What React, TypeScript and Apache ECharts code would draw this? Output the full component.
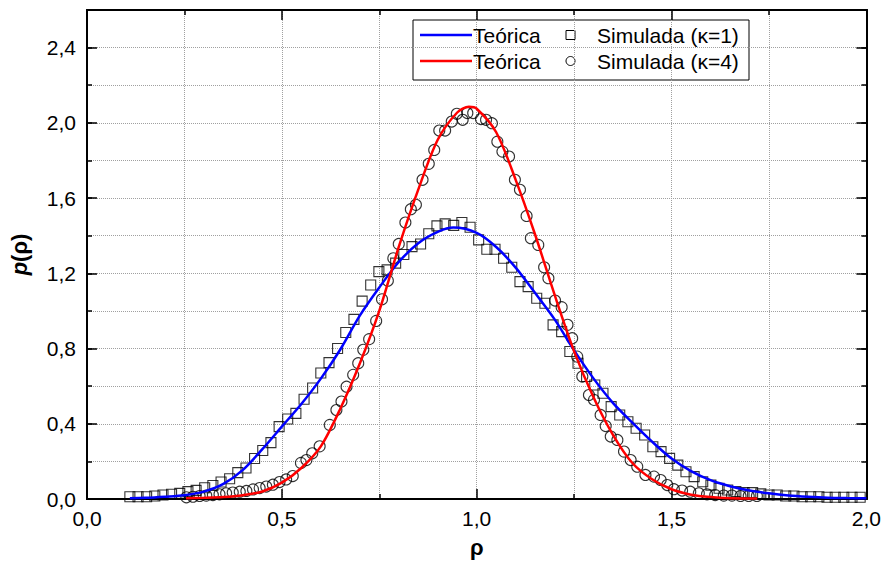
import React, { useEffect, useRef } from "react";
import * as echarts from "echarts";

// Theoretical curves
const blueX = [0.11, 0.15, 0.2, 0.25, 0.3, 0.35, 0.4, 0.45, 0.5, 0.55, 0.6, 0.65, 0.7, 0.75, 0.8, 0.85, 0.9, 0.94, 1.0, 1.05, 1.1, 1.15, 1.2, 1.25, 1.3, 1.35, 1.4, 1.45, 1.5, 1.55, 1.6, 1.65, 1.7, 1.75, 1.8, 1.85, 1.9, 1.95, 2.0];
const blueY = [0.004, 0.006, 0.012, 0.02, 0.039, 0.08, 0.155, 0.265, 0.385, 0.505, 0.64, 0.795, 0.975, 1.125, 1.26, 1.36, 1.42, 1.443, 1.415, 1.34, 1.23, 1.095, 0.955, 0.79, 0.64, 0.51, 0.405, 0.305, 0.215, 0.148, 0.1, 0.068, 0.045, 0.03, 0.019, 0.012, 0.007, 0.005, 0.004];

const redX = [0.254, 0.3, 0.35, 0.4, 0.45, 0.5, 0.55, 0.6, 0.65, 0.7, 0.75, 0.8, 0.85, 0.9, 0.95, 0.98, 1.0, 1.05, 1.1, 1.15, 1.2, 1.25, 1.3, 1.35, 1.4, 1.45, 1.5, 1.55, 1.6, 1.65, 1.72];
const redY = [0.004, 0.006, 0.01, 0.02, 0.04, 0.087, 0.165, 0.28, 0.48, 0.72, 1.0, 1.34, 1.645, 1.91, 2.055, 2.085, 2.075, 1.95, 1.697, 1.405, 1.085, 0.785, 0.54, 0.34, 0.19, 0.105, 0.052, 0.023, 0.01, 0.004, 0.002];

// Simulated (kappa = 1), squares
const sqX = [0.110, 0.131, 0.153, 0.174, 0.195, 0.217, 0.238, 0.259, 0.280, 0.302, 0.323, 0.344, 0.366, 0.387, 0.408, 0.430, 0.451, 0.472, 0.493, 0.515, 0.536, 0.557, 0.579, 0.600, 0.621, 0.643, 0.664, 0.685, 0.706, 0.728, 0.749, 0.770, 0.792, 0.813, 0.834, 0.856, 0.877, 0.898, 0.919, 0.941, 0.962, 0.983, 1.005, 1.026, 1.047, 1.069, 1.090, 1.111, 1.132, 1.154, 1.175, 1.196, 1.218, 1.239, 1.260, 1.282, 1.303, 1.324, 1.345, 1.367, 1.388, 1.409, 1.431, 1.452, 1.473, 1.495, 1.516, 1.537, 1.558, 1.580, 1.601, 1.622, 1.644, 1.665, 1.686, 1.708, 1.729, 1.750, 1.771, 1.793, 1.814, 1.835, 1.857, 1.878, 1.899, 1.920, 1.942, 1.963, 1.984];
const sqY = [0.012, 0.012, 0.012, 0.016, 0.021, 0.025, 0.030, 0.039, 0.046, 0.060, 0.072, 0.090, 0.108, 0.140, 0.165, 0.215, 0.258, 0.300, 0.385, 0.425, 0.455, 0.530, 0.590, 0.670, 0.725, 0.800, 0.885, 0.955, 1.052, 1.138, 1.209, 1.218, 1.254, 1.300, 1.342, 1.356, 1.410, 1.452, 1.463, 1.455, 1.470, 1.445, 1.378, 1.328, 1.328, 1.280, 1.232, 1.156, 1.129, 1.067, 1.041, 0.926, 0.890, 0.784, 0.722, 0.651, 0.606, 0.562, 0.491, 0.447, 0.411, 0.376, 0.340, 0.278, 0.252, 0.216, 0.180, 0.145, 0.119, 0.092, 0.074, 0.057, 0.048, 0.039, 0.034, 0.034, 0.027, 0.021, 0.021, 0.016, 0.016, 0.012, 0.012, 0.012, 0.009, 0.009, 0.009, 0.009, 0.009];

// Simulated (kappa = 4), circles
const ciX = [0.255, 0.272, 0.289, 0.306, 0.323, 0.340, 0.357, 0.374, 0.392, 0.409, 0.426, 0.443, 0.460, 0.477, 0.494, 0.511, 0.528, 0.549, 0.563, 0.578, 0.597, 0.623, 0.640, 0.653, 0.666, 0.683, 0.696, 0.709, 0.724, 0.742, 0.757, 0.772, 0.786, 0.800, 0.817, 0.831, 0.844, 0.861, 0.877, 0.891, 0.904, 0.919, 0.936, 0.949, 0.964, 0.976, 0.991, 1.011, 1.024, 1.039, 1.053, 1.066, 1.083, 1.098, 1.111, 1.128, 1.139, 1.158, 1.173, 1.184, 1.201, 1.218, 1.233, 1.245, 1.258, 1.271, 1.288, 1.301, 1.318, 1.331, 1.344, 1.361, 1.378, 1.395, 1.412, 1.433, 1.455, 1.472, 1.489, 1.506, 1.527, 1.548, 1.570, 1.591, 1.612, 1.634, 1.655, 1.677, 1.698, 1.719];
const ciY = [0.009, 0.012, 0.016, 0.018, 0.021, 0.025, 0.030, 0.034, 0.039, 0.043, 0.051, 0.058, 0.066, 0.076, 0.090, 0.104, 0.122, 0.192, 0.207, 0.243, 0.280, 0.394, 0.473, 0.518, 0.597, 0.660, 0.722, 0.793, 0.850, 0.947, 1.062, 1.161, 1.280, 1.356, 1.470, 1.541, 1.564, 1.697, 1.782, 1.856, 1.959, 1.959, 2.007, 2.048, 2.016, 2.052, 2.052, 2.020, 2.016, 1.998, 1.900, 1.847, 1.821, 1.697, 1.644, 1.505, 1.387, 1.351, 1.232, 1.174, 1.055, 1.020, 0.926, 0.855, 0.757, 0.651, 0.553, 0.527, 0.447, 0.388, 0.332, 0.314, 0.252, 0.207, 0.172, 0.128, 0.119, 0.101, 0.074, 0.052, 0.045, 0.039, 0.030, 0.025, 0.021, 0.018, 0.018, 0.016, 0.016, 0.016];

const legendLabels = ["Teórica", "Simulada (κ=1)", "Teórica", "Simulada (κ=4)"];

const FONT = "'Liberation Sans', Arial, Helvetica, sans-serif";
const fmt = (v: number) => (v > 2.5 ? "" : v.toFixed(1).replace(".", ","));
const zip = (a: number[], b: number[]) => a.map((x, i) => [x, b[i]]);

const dotted = { show: true, lineStyle: { color: "#a0a0a0", type: "dotted", width: 1 } };
const axLine = { show: true, onZero: false, lineStyle: { color: "#000", width: 2 } };

export default function App() {
  const ref = useRef<HTMLDivElement>(null);
  useEffect(() => {
    if (!ref.current) return;
    const chart = echarts.init(ref.current, null, { renderer: "svg" });
    const yBase = (pos: string, interval: number, len: number, extra: any = {}) => ({
      type: "value",
      position: pos,
      min: 0,
      max: 2.6,
      interval,
      axisLine: axLine,
      axisTick: { show: true, inside: true, length: len, lineStyle: { color: "#000", width: 1.5 } },
      splitLine: { show: false },
      axisLabel: { show: false },
      ...extra,
    });
    chart.setOption({
      animation: false,
      grid: { left: 87, right: 16, top: 10, bottom: 70, containLabel: false },
      xAxis: [
        {
          type: "value",
          position: "bottom",
          min: 0,
          max: 2,
          interval: 0.5,
          axisLine: axLine,
          axisTick: { show: true, inside: true, length: 10, lineStyle: { color: "#000", width: 1.5 } },
          minorTick: { show: true, splitNumber: 2, length: 5, lineStyle: { color: "#000", width: 1.5 } },
          splitLine: dotted,
          minorSplitLine: dotted,
          axisLabel: { formatter: fmt, fontSize: 21, color: "#000", fontFamily: FONT, margin: 9 },
          name: "ρ",
          nameLocation: "middle",
          nameGap: 37,
          nameTextStyle: { fontSize: 22, fontWeight: "bold", color: "#000", fontFamily: FONT },
        },
        {
          type: "value",
          position: "top",
          min: 0,
          max: 2,
          interval: 0.5,
          axisLine: axLine,
          axisTick: { show: true, inside: true, length: 10, lineStyle: { color: "#000", width: 1.5 } },
          minorTick: { show: true, splitNumber: 2, length: 5, lineStyle: { color: "#000", width: 1.5 } },
          splitLine: { show: false },
          axisLabel: { show: false },
        },
      ],
      yAxis: [
        yBase("left", 0.2, 5, { splitLine: dotted }),
        yBase("left", 0.4, 10, {
          axisLabel: { show: true, formatter: fmt, fontSize: 21, color: "#000", fontFamily: FONT, margin: 11, showMaxLabel: false },
          name: "{i|p}(ρ)",
          nameLocation: "middle",
          nameRotate: 90,
          nameGap: 57,
          nameTextStyle: {
            fontSize: 22,
            fontWeight: "bold",
            color: "#000",
            fontFamily: FONT,
            rich: { i: { fontSize: 22, fontStyle: "italic", fontWeight: "bold", fontFamily: FONT, color: "#000" } },
          },
        }),
        yBase("right", 0.2, 5),
        yBase("right", 0.4, 10),
      ],
      series: [
        {
          type: "scatter",
          name: legendLabels[1],
          data: zip(sqX, sqY),
          symbol: "rect",
          symbolSize: 10,
          itemStyle: { color: "rgba(0,0,0,0)", borderColor: "#000", borderWidth: 1.1 },
          z: 2,
        },
        {
          type: "scatter",
          name: legendLabels[3],
          data: zip(ciX, ciY),
          symbol: "circle",
          symbolSize: 11,
          itemStyle: { color: "rgba(0,0,0,0)", borderColor: "#000", borderWidth: 1.1 },
          z: 2,
        },
        {
          type: "line",
          name: "blue",
          data: zip(blueX, blueY),
          smooth: 0.3,
          showSymbol: false,
          symbol: "none",
          lineStyle: { color: "#0000ff", width: 2.5 },
          z: 4,
        },
        {
          type: "line",
          name: "red",
          data: zip(redX, redY),
          smooth: 0.3,
          showSymbol: false,
          symbol: "none",
          lineStyle: { color: "#ff0000", width: 2.5 },
          z: 4,
        },
      ],
      graphic: [
        {
          type: "group",
          z: 100,
          children: [
            { type: "rect", shape: { x: 413, y: 20, width: 336, height: 60 }, style: { fill: "#fff", stroke: "#000", lineWidth: 1 } },
            { type: "line", shape: { x1: 420, y1: 35, x2: 472, y2: 35 }, style: { stroke: "#0000ff", lineWidth: 2.5 } },
            { type: "text", x: 473, y: 35, style: { text: legendLabels[0], fontSize: 21, fontFamily: FONT, fill: "#000", verticalAlign: "middle" } },
            { type: "rect", shape: { x: 566, y: 30.5, width: 9, height: 9 }, style: { fill: "none", stroke: "#000", lineWidth: 1 } },
            { type: "text", x: 597, y: 35, style: { text: legendLabels[1], fontSize: 21, fontFamily: FONT, fill: "#000", verticalAlign: "middle" } },
            { type: "line", shape: { x1: 420, y1: 61, x2: 472, y2: 61 }, style: { stroke: "#ff0000", lineWidth: 2.5 } },
            { type: "text", x: 473, y: 61, style: { text: legendLabels[2], fontSize: 21, fontFamily: FONT, fill: "#000", verticalAlign: "middle" } },
            { type: "circle", shape: { cx: 570.5, cy: 61, r: 4.5 }, style: { fill: "none", stroke: "#000", lineWidth: 1 } },
            { type: "text", x: 597, y: 61, style: { text: legendLabels[3], fontSize: 21, fontFamily: FONT, fill: "#000", verticalAlign: "middle" } },
          ],
        },
      ],
    });
    return () => chart.dispose();
  }, []);
  return <div ref={ref} style={{ position: "absolute", left: 0, top: 0, width: 884, height: 569 }} />;
}
